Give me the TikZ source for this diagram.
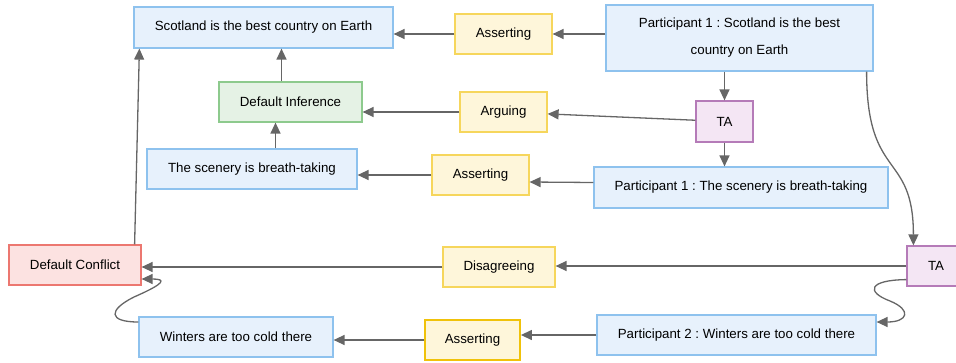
\documentclass[tikz,border=0pt]{standalone}
\usepackage{fontspec}
\setmainfont{Liberation Sans}
\usepackage{tikz}
\usetikzlibrary{positioning,arrows.meta,calc}
\frenchspacing
\definecolor{afill}{HTML}{E7F1FC}
\definecolor{aline}{HTML}{8EC2EE}
\definecolor{ifill}{HTML}{E5F2E5}
\definecolor{iline}{HTML}{8DCA8D}
\definecolor{lfill}{HTML}{FEF6DA}
\definecolor{lline}{HTML}{F6D65C}
\definecolor{lstrong}{HTML}{F0C20A}
\definecolor{cfill}{HTML}{FCE2E1}
\definecolor{cline}{HTML}{EC7770}
\definecolor{tfill}{HTML}{F4E6F4}
\definecolor{tline}{HTML}{B57BB8}
\definecolor{eline}{HTML}{666666}
\tikzset{abox/.style={rectangle, draw=aline, fill=afill, line width=1.2pt, inner sep=0pt, align=center, font=\fontsize{13.3}{27}\selectfont}}
\tikzset{ibox/.style={abox, draw=iline, fill=ifill}}
\tikzset{lbox/.style={abox, draw=lline, fill=lfill}}
\tikzset{cbox/.style={abox, draw=cline, fill=cfill}}
\tikzset{tbox/.style={abox, draw=tline, fill=tfill}}
\tikzset{aedge/.style={-{Triangle[length=11pt, width=10pt]}, draw=eline, line width=1.3pt}}

\begin{document}
\begin{tikzpicture}[x=1pt, y=-1pt]
  \useasboundingbox (0,0) rectangle (956,362);

  \node[abox, minimum width=259, minimum height=41] (claimtop) at (263.5,27.5) {Scotland is the best country on Earth};
  \node[lbox, minimum width=97, minimum height=40] (assert1) at (503.5,34) {Asserting};
  \node[abox, minimum width=267, minimum height=66] (part1top) at (739.5,38) {Participant 1 : Scotland is the best\\country on Earth};

  \node[ibox, minimum width=143, minimum height=40] (infer) at (290.5,102) {Default Inference};
  \node[lbox, minimum width=87, minimum height=40] (argue) at (503.5,112) {Arguing};
  \node[tbox, minimum width=57, minimum height=41] (ta1) at (724.5,121.5) {TA};

  \node[abox, minimum width=210, minimum height=40] (scenery) at (252,169) {The scenery is breath-taking};
  \node[lbox, minimum width=97, minimum height=40] (assert2) at (480.5,175) {Asserting};
  \node[abox, minimum width=294, minimum height=41] (part1b) at (741,187.5) {Participant 1 : The scenery is breath-taking};

  \node[cbox, minimum width=132, minimum height=40] (conflict) at (75,265) {Default Conflict};
  \node[lbox, minimum width=112, minimum height=40] (disagree) at (499,267) {Disagreeing};
  \node[tbox, minimum width=58, minimum height=40] (ta2) at (936,266) {TA};

  \node[abox, minimum width=194, minimum height=40] (winters) at (236,337) {Winters are too cold there};
  \node[lbox, draw=lstrong, line width=1.8pt, minimum width=95, minimum height=40] (assert3) at (472.5,340) {Asserting};
  \node[abox, minimum width=279, minimum height=40] (part2) at (736.5,335) {Participant 2 : Winters are too cold there};

  % top claim
  \draw[aedge] (part1top.west |- assert1.east) -- (assert1.east);
  \draw[aedge] (assert1.west) -- (claimtop.east |- assert1.west);
  \draw[aedge] (part1top.south -| ta1) -- (ta1);
  \draw[aedge] (ta1) -- (argue);
  \draw[aedge] (argue.west) -- (argue.west -| infer.east);
  \draw[aedge] ([xshift=-9pt]infer.north) -- ([xshift=-9pt]infer.north |- claimtop.south);

  % scenery
  \draw[aedge] (ta1) -- (ta1 |- part1b.north);
  \draw[aedge] ([yshift=5pt]part1b.west) -- ([yshift=-7pt]assert2.east);
  \draw[aedge] (assert2.west) -- (assert2.west -| scenery.east);
  \draw[aedge] ([xshift=-15pt]infer.south |- scenery.north) -- ([xshift=-15pt]infer.south);

  % conflict
  \draw[aedge] ([xshift=-7pt]part1top.south east) .. controls +(0,110) and +(0,-95) .. ([xshift=7pt]ta2.north west);
  \draw[aedge] (ta2.west) -- (ta2.west -| disagree.east);
  \draw[aedge] (disagree.west) -- (disagree.west -| conflict.east);
  \draw[aedge] ([xshift=-7pt]conflict.north east) -- ([xshift=6pt]claimtop.south west);

  % winters
  \draw[aedge] ([yshift=7pt]ta2.south west) .. controls (868,280) and (866,292) .. (890,301) .. controls (912,310) and (908,322) .. (part2.east |- 0,322);
  \draw[aedge] (part2.west) -- (part2.west -| assert3.east);
  \draw[aedge] (assert3.west) -- (assert3.west -| winters.east);
  \draw[aedge] ([yshift=15pt]winters.west) .. controls (108,322) and (108,310) .. (134,297) .. controls (166,283) and (166,279) .. (conflict.east |- 0,279);
\end{tikzpicture}
\end{document}
